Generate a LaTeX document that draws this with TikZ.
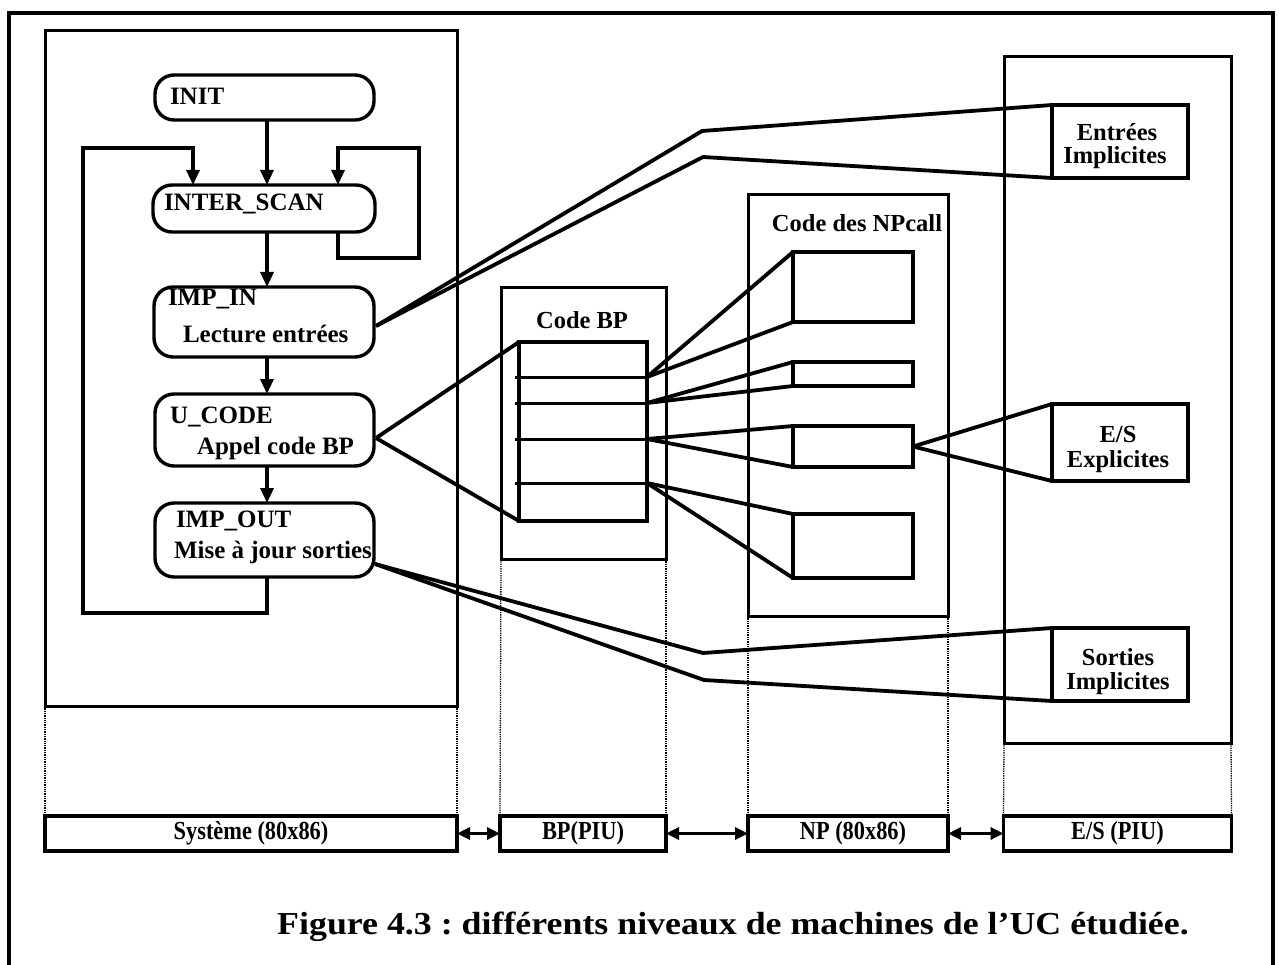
\documentclass[tikz,border=0pt]{standalone}
\usepackage{fontspec}
\setmainfont{Liberation Serif}
\usetikzlibrary{arrows.meta,calc}
\newcommand{\condensed}[1]{\scalebox{0.86}[1]{#1}}
\begin{document}
\frenchspacing
\begin{tikzpicture}[x=1pt,y=-1pt,
  every node/.style={inner sep=0pt,outer sep=0pt},
  col/.style={draw,line width=3pt,rectangle},
  rbox/.style={draw,line width=3.4pt,rounded corners=19pt,rectangle},
  sbox/.style={draw,line width=3.4pt,rectangle},
  conn/.style={line width=3.8pt,line join=miter},
  thinconn/.style={line width=3pt},
  flow/.style={line width=3.2pt,-{Triangle[length=15pt,width=13pt]}},
  dbl/.style={line width=3.2pt,{Triangle[length=13pt,width=12pt]}-{Triangle[length=13pt,width=12pt]}},
  dots/.style={line width=1.3pt,densely dotted},
  txt/.style={font=\fontsize{25}{30}\selectfont\bfseries,anchor=base west},
  ctxt/.style={font=\fontsize{24.5}{29}\selectfont\bfseries,anchor=base},
  bartxt/.style={font=\fontsize{26}{30}\selectfont\bfseries},
]
\useasboundingbox (0,0) rectangle (1279,965);
% outer frame (open at bottom)
\draw[line width=4pt] (9,965) -- (9,13) -- (1273,13) -- (1273,965);

% columns
\node[col,minimum width=412pt,minimum height=675pt] (sys) at (251,368.5) {};
\node[col,minimum width=165pt,minimum height=271pt] (bp) at (583.5,423.5) {};
\node[col,minimum width=200pt,minimum height=421pt] (np) at (848,405.5) {};
\node[col,minimum width=227pt,minimum height=686pt] (es) at (1117.5,400) {};

% bars
\node[sbox,minimum width=412pt,minimum height=35pt,bartxt] (sysbar) at (251,833.5) {\condensed{Système (80x86)}};
\node[sbox,minimum width=166pt,minimum height=35pt,bartxt] (bpbar) at (583,833.5) {\condensed{BP(PIU)}};
\node[sbox,minimum width=200pt,minimum height=35pt,bartxt] (npbar) at (848,833.5) {\hspace*{10pt}\condensed{NP (80x86)}};
\node[sbox,minimum width=228pt,minimum height=35pt,bartxt] (esbar) at (1117.5,833.5) {\condensed{E/S (PIU)}};

% dotted continuations
\draw[dots] (sys.south west) -- (sysbar.north west);
\draw[dots] (sys.south east) -- (sysbar.north east);
\draw[dots] (bp.south west) -- (bpbar.north west);
\draw[dots] (bp.south east) -- (bpbar.north east);
\draw[dots] (np.south west) -- (npbar.north west);
\draw[dots] (np.south east) -- (npbar.north east);
\draw[dots] (es.south west) -- (esbar.north west);
\draw[dots] (es.south east) -- (esbar.north east);

% bar arrows
\draw[dbl] (sysbar.east) -- (bpbar.west);
\draw[dbl] (bpbar.east) -- (npbar.west);
\draw[dbl] (npbar.east) -- (esbar.west);

% flowchart boxes
\node[rbox,minimum width=219pt,minimum height=45pt] (init) at (264.5,97.5) {};
\node[rbox,minimum width=222pt,minimum height=47pt] (iscan) at (264,208.5) {};
\node[rbox,minimum width=220pt,minimum height=70pt] (impin) at (264,322) {};
\node[rbox,minimum width=219pt,minimum height=72pt] (ucode) at (264.5,430) {};
\node[rbox,minimum width=219pt,minimum height=74pt] (impout) at (264.5,540) {};

\node[txt] (tinit) at (170,105) {INIT};
\node[txt] (tiscan) at (164,211) {INTER\_SCAN};
\node[txt] (timpin) at (168,306) {IMP\_IN};
\node[txt] (tlect) at (183,343) {Lecture entrées};
\node[txt] (tucode) at (170,423) {U\_CODE};
\node[txt] (tappel) at (197,454) {Appel code BP};
\node[txt] (timpout) at (176,527) {IMP\_OUT};
\node[txt] (tmise) at (174,558) {Mise à jour sorties};

% flow arrows
\coordinate (ax) at (267,0);
\coordinate (lb) at (83,613);
\coordinate (lt) at (193,148);
\coordinate (rb) at (338,258);
\coordinate (rt) at (419,148);
\draw[flow] (init.south -| ax) -- (iscan.north -| ax);
\draw[flow] (iscan.south -| ax) -- (impin.north -| ax);
\draw[flow] (impin.south -| ax) -- (ucode.north -| ax);
\draw[flow] (ucode.south -| ax) -- (impout.north -| ax);
\draw[flow] (impout.south -| ax) |- (lb) |- (lt) -- (iscan.north -| lt);
\draw[flow] (iscan.south -| rb) -- (rb) -| (rt) -| (iscan.north -| rb);

% Code BP table
\node[ctxt] (tcbp) at (582,329) {Code BP};
\node[sbox,minimum width=128pt,minimum height=179pt] (tab) at (583,431.5) {};
\coordinate (r1) at (515,377);
\coordinate (r2) at (515,403);
\coordinate (r3) at (515,439);
\coordinate (r4) at (515,483);
\foreach \r in {r1,r2,r3,r4} {\draw[thinconn] (\r) -- (\r -| tab.east);}

% NP sub boxes
\node[ctxt] (tnp) at (857,232) {Code des NPcall};
\node[sbox,minimum width=120pt,minimum height=70pt] (nb1) at (853,287) {};
\node[sbox,minimum width=120pt,minimum height=24pt] (nb2) at (853,374) {};
\node[sbox,minimum width=120pt,minimum height=41pt] (nb3) at (853,446.5) {};
\node[sbox,minimum width=120pt,minimum height=64pt] (nb4) at (853,546) {};

% E/S boxes
\node[sbox,minimum width=136pt,minimum height=73pt] (eimp) at (1120,141.5) {};
\node[sbox,minimum width=136pt,minimum height=77pt] (esx) at (1120,442.5) {};
\node[sbox,minimum width=136pt,minimum height=73pt] (simp) at (1120,664.5) {};
\node[ctxt] (te1) at (1117,141) {Entrées};
\node[ctxt] (te2) at (1115,164) {Implicites};
\node[ctxt] (tx1) at (1118,442) {E/S};
\node[ctxt] (tx2) at (1118,467) {Explicites};
\node[ctxt] (ts1) at (1118,665) {Sorties};
\node[ctxt] (ts2) at (1118,689) {Implicites};

% fans
\coordinate (oin) at ($(impin.east)+(2,4)$);
\coordinate (ouc) at ($(ucode.east)+(2,8)$);
\coordinate (oout) at ($(impout.east)+(1,24)$);
\coordinate (kin1) at (702,131);
\coordinate (kin2) at (703,157);
\coordinate (kout1) at (703,653);
\coordinate (kout2) at (704,680);
\draw[conn] (oin) -- (kin1) -- (eimp.north west);
\draw[conn] (oin) -- (kin2) -- (eimp.south west);
\draw[conn] (ouc) -- (tab.north west);
\draw[conn] (ouc) -- (tab.south west);
\draw[conn] (oout) -- (kout1) -- (simp.north west);
\draw[conn] (oout) -- (kout2) -- (simp.south west);

\draw[conn] (r1 -| tab.east) -- (nb1.north west);
\draw[conn] (r1 -| tab.east) -- (nb1.south west);
\draw[conn] (r2 -| tab.east) -- (nb2.north west);
\draw[conn] (r2 -| tab.east) -- (nb2.south west);
\draw[conn] (r3 -| tab.east) -- (nb3.north west);
\draw[conn] (r3 -| tab.east) -- (nb3.south west);
\draw[conn] (r4 -| tab.east) -- (nb4.north west);
\draw[conn] (r4 -| tab.east) -- (nb4.south west);
\draw[conn] (nb3.east) -- (esx.north west);
\draw[conn] (nb3.east) -- (esx.south west);

% caption
\node[font=\fontsize{32}{38}\selectfont\bfseries,anchor=base] (cap) at (733,934) {\scalebox{1.12}[1]{Figure 4.3 : différents niveaux de machines de l'UC étudiée.}};
\end{tikzpicture}
\end{document}
